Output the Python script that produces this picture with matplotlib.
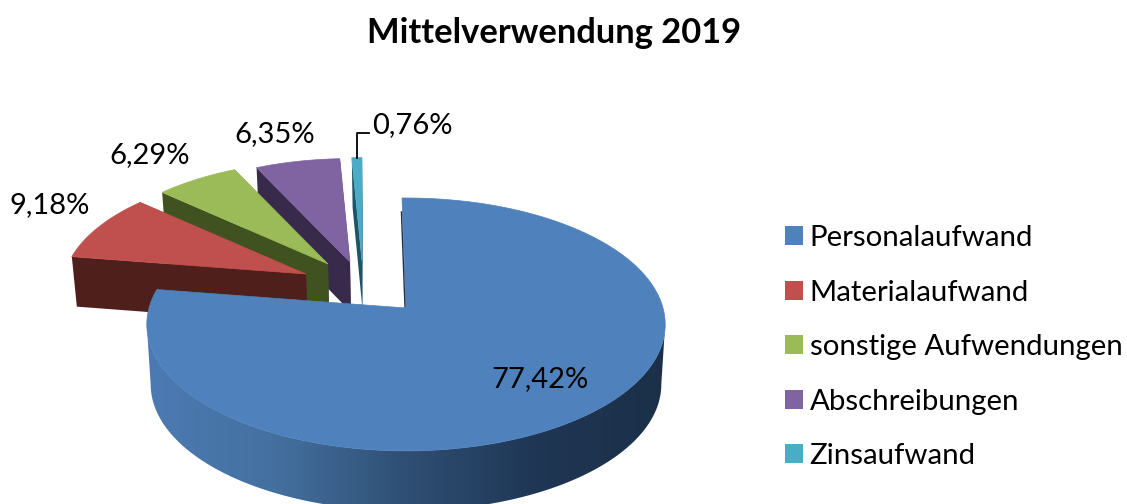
#!/usr/bin/env python3
"""Mittelverwendung 2019 as a pseudo 3D pie with exploded slices."""

import matplotlib.pyplot as plt
import numpy as np
from matplotlib.colors import LinearSegmentedColormap
from matplotlib.patches import Patch, Polygon

categories = ["Personalaufwand", "Materialaufwand", "sonstige Aufwendungen",
              "Abschreibungen", "Zinsaufwand"]
shares = [77.42, 9.18, 6.29, 6.35, 0.76]
share_labels = ["77,42%", "9,18%", "6,29%", "6,35%", "0,76%"]
title = "Mittelverwendung 2019"

top_colors = ["#4f81bd", "#c0504d", "#9bbb59", "#8064a2", "#4bacc6"]
wall_colors = ["#1c3049", "#4f1f1b", "#3f5220", "#372a4b", "#1d5566"]

# pixel layout of the fake perspective
CX, CY = 406, 308
RX, RY, TILT = 257, 124.3, 0.13
BOTTOM_SCALE = 0.985
MAIN_DEPTH, SLICE_DEPTH = 60, 50
SLICE_RADIUS = 0.94
MAIN_START_TILT = np.radians(-1.0)
# explosion offset of each slice (px), first slice stays in place
explode = [(0, 0), (-100, -34), (-78, -44), (-56, -46), (-44, -47)]
label_pos = [(50, 205), (150, 155), (275, 134), (412, 125)]
main_label_pos = (540, 379)

plt.rcParams["font.family"] = ["Lato", "DejaVu Sans"]

fig = plt.figure(figsize=(11.27, 5.04), dpi=100)
ax = fig.add_axes([0, 0, 1, 1])
ax.set_xlim(0, 1127)
ax.set_ylim(504, 0)
ax.axis("off")


def project(theta, radius=1.0):
    """Map pie angle (clockwise from top, radians) to pixels relative to the centre."""
    x = radius * np.sin(theta)
    y = radius * np.cos(theta)
    w = 1 + TILT * y
    return RX * x / w, -RY * y / w


def wedge_points(start, end, offset, radius, n=240):
    theta = np.linspace(start, end, n)
    x, y = project(theta)
    x = CX + offset[0] + radius * x
    y = CY + offset[1] + radius * y
    return np.column_stack([x, y])


def drop(points, depth):
    """Same points moved down by the extrusion depth."""
    out = np.array(points, dtype=float)
    out[:, 0] = CX + (out[:, 0] - CX) * BOTTOM_SCALE
    out[:, 1] += depth
    return out


edges = np.radians(np.cumsum([0] + shares) / sum(shares) * 360)

# exploded slices, back to front
for i in [4, 3, 2, 1]:
    offset = explode[i]
    arc = wedge_points(edges[i], edges[i + 1], offset, SLICE_RADIUS)
    apex = np.array([[CX + offset[0], CY + offset[1]]])
    cut = np.vstack([apex, arc[:1]])
    wall = np.vstack([cut, drop(cut, SLICE_DEPTH)[::-1]])
    end_cut = np.vstack([apex, arc[-1:]])
    end_wall = np.vstack([end_cut, drop(end_cut, SLICE_DEPTH)[::-1]])
    ax.add_patch(Polygon(end_wall, closed=True, fc=wall_colors[i], ec="none"))
    ax.add_patch(Polygon(wall, closed=True, fc=wall_colors[i], ec="none"))
    ax.add_patch(Polygon(np.vstack([apex, arc]), closed=True, fc=top_colors[i],
                         ec=top_colors[i], lw=0.5))

# big slice: shaded side wall between the two silhouette points, then the top face
arc = wedge_points(edges[0] + MAIN_START_TILT, edges[1], (0, 0), 1.0)
right, left = np.argmax(arc[:, 0]), np.argmin(arc[:, 0])
front = arc[right:left + 1]
wall_poly = Polygon(np.vstack([front, drop(front, MAIN_DEPTH)[::-1]]), closed=True,
                    fc="none", ec="none", transform=ax.transData)
ax.add_patch(wall_poly)
shade = LinearSegmentedColormap.from_list(
    "side", ["#4c7bb4", "#44709f", "#2f4f74", "#1f3654", "#1b3048"])
img = ax.imshow(np.linspace(0, 1, 256)[None, :], cmap=shade, aspect="auto",
                extent=(145, 668, 504, 250), zorder=1)
img.set_clip_path(wall_poly)
ax.set_xlim(0, 1127)
ax.set_ylim(504, 0)

apex = np.array([[CX, CY]])
ax.add_patch(Polygon(np.vstack([apex, arc]), closed=True, fc=top_colors[0],
                     ec=top_colors[0], lw=0.5, zorder=2))
# thin visible bit of the inner cut at 12 o'clock
ax.plot([arc[0, 0] - 0.6, CX - 1], [arc[0, 1] + 14, CY - 1], color=wall_colors[0],
        lw=1.0, zorder=3)

# labels and the leader line of the smallest slice
for text, (x, y) in zip(share_labels[1:], label_pos):
    ax.text(x, y, text, fontsize=21, ha="center", va="center", color="black", zorder=4)
ax.text(*main_label_pos, share_labels[0], fontsize=21, ha="center", va="center", zorder=4)
ax.plot([357, 357, 369], [158, 133, 133], color="black", lw=1.3, zorder=4)

ax.text(554, 33, title, fontsize=24.8, fontweight="bold", ha="center", va="center")

handles = [Patch(facecolor=c, edgecolor="none") for c in top_colors]
ax.legend(handles, categories, loc="upper left", bbox_to_anchor=(785 / 1127, 1 - 225 / 504),
          frameon=False, fontsize=21.2, handlelength=0.62, handleheight=0.62,
          handletextpad=0.22, labelspacing=0.97, borderpad=0, borderaxespad=0)

fig.savefig("out.png", dpi=100)
